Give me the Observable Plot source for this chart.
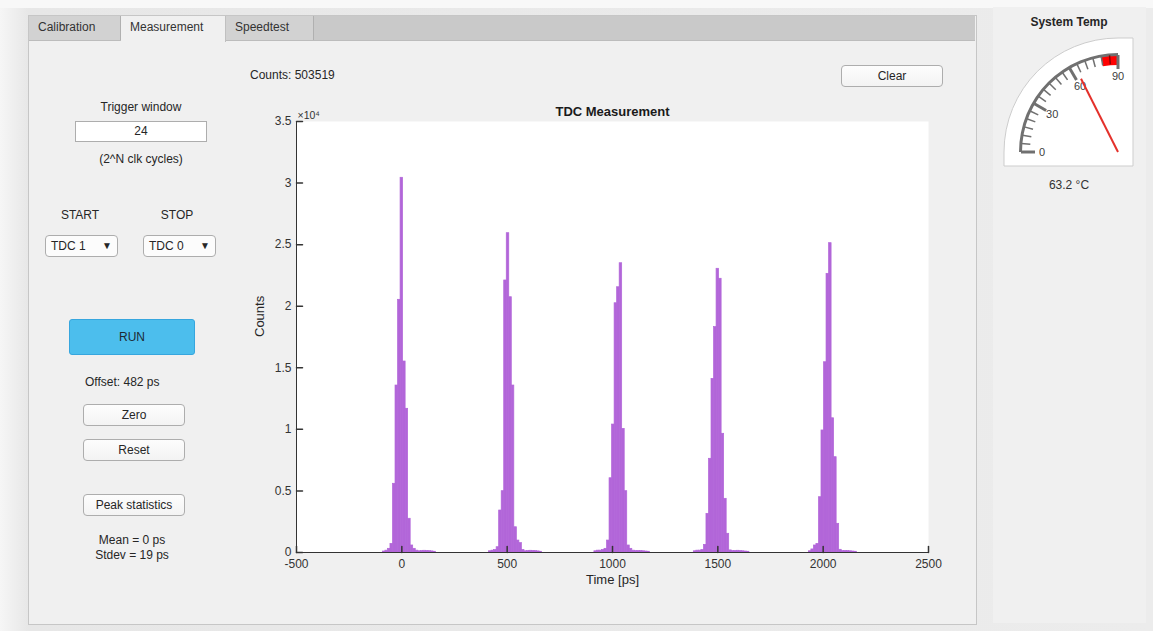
<!DOCTYPE html>
<html>
<head>
<meta charset="utf-8">
<script src="https://cdn.jsdelivr.net/npm/d3@7"></script>
<script src="https://cdn.jsdelivr.net/npm/@observablehq/plot@0.6"></script>
<style>
  html, body { margin: 0; padding: 0; }
  body { width: 1153px; height: 631px; overflow: hidden; position: relative;
         font-family: "Liberation Sans", Arial, sans-serif; color: #262626;
         background: linear-gradient(90deg, #f6f6f6 0px, #e7e7e7 28px, #ececec 100%); }
  .abs { position: absolute; }
  .panel { left: 28px; top: 15px; width: 947px; height: 608px; background: #f0f0f0; border: 1px solid #c6c6c6; }
  .tabbar { left: 29px; top: 16px; width: 946px; height: 24px; background: #c9c9c9; border-bottom: 1px solid #bcbcbc; }
  .tab { top: 16px; height: 24px; font-size: 12px; line-height: 22px; color: #333; box-sizing: border-box; padding-left: 9px; border-right: 1px solid #b0b0b0; background: #d2d2d2; }
  .tab.sel { background: #f0f0f0; height: 26px; border-right: 1px solid #c0c0c0; }
  .lbl { font-size: 12px; color: #262626; white-space: nowrap; }
  .ctr { transform: translate(-50%, -50%); }
  .btn { box-sizing: border-box; border: 1px solid #adadad; border-radius: 4px; background: linear-gradient(#fdfdfd, #f3f3f3);
         font-size: 12px; text-align: center; color: #262626; }
  .dd { box-sizing: border-box; border: 1px solid #adadad; border-radius: 4px; background: #fcfcfc; font-size: 12px; color: #262626; padding-left: 5px; }
  .dd span { position: absolute; right: 5px; top: 0; font-size: 10px; }
</style>
</head>
<body>
<div class="abs" style="left:0;top:0;width:1153px;height:8px;background:#f8f8f8"></div>
<div class="abs panel"></div>
<div class="abs tabbar"></div>
<div class="abs tab" style="left:29px;width:92px">Calibration</div>
<div class="abs tab sel" style="left:121px;width:105px">Measurement</div>
<div class="abs tab" style="left:226px;width:88px">Speedtest</div>

<div class="abs lbl" style="left:250px;top:68px">Counts: 503519</div>
<div class="abs btn" style="left:841px;top:65px;width:102px;height:22px;line-height:20px">Clear</div>

<div class="abs lbl ctr" style="left:141px;top:107px">Trigger window</div>
<div class="abs" style="left:75px;top:121px;width:132px;height:21px;box-sizing:border-box;border:1px solid #adadad;background:#fff;font-size:12px;text-align:center;line-height:19px">24</div>
<div class="abs lbl ctr" style="left:141px;top:159px">(2^N clk cycles)</div>

<div class="abs lbl ctr" style="left:80px;top:215px">START</div>
<div class="abs lbl ctr" style="left:177px;top:215px">STOP</div>
<div class="abs dd" style="left:45px;top:235px;width:73px;height:22px;line-height:20px">TDC 1<span>▼</span></div>
<div class="abs dd" style="left:143px;top:235px;width:73px;height:22px;line-height:20px">TDC 0<span>▼</span></div>

<div class="abs" style="left:69px;top:319px;width:126px;height:36px;box-sizing:border-box;border:1px solid #36a6de;border-radius:3px;background:#4cbeed;font-size:12px;text-align:center;line-height:34px;color:#1e2a33">RUN</div>

<div class="abs lbl" style="left:85px;top:375px">Offset: 482 ps</div>
<div class="abs btn" style="left:83px;top:404px;width:102px;height:22px;line-height:20px">Zero</div>
<div class="abs btn" style="left:83px;top:439px;width:102px;height:22px;line-height:20px">Reset</div>
<div class="abs btn" style="left:83px;top:494px;width:102px;height:22px;line-height:20px">Peak statistics</div>
<div class="abs lbl ctr" style="left:132px;top:540px">Mean = 0 ps</div>
<div class="abs lbl ctr" style="left:132px;top:555px">Stdev = 19 ps</div>

<div class="abs" style="left:993px;top:7px;width:153px;height:616px;background:#f0f0f0"></div>
<div class="abs lbl ctr" style="left:1069px;top:22px;font-weight:bold;font-size:12px">System Temp</div>
<div class="abs lbl ctr" style="left:1069px;top:185px;color:#333">63.2 °C</div>

<div id="chart" class="abs" style="left:240px;top:95px"></div>
<div id="gauge" class="abs" style="left:990px;top:0px"></div>

<script>
// ---- Histogram data (bin centres in ps, counts), bin width 12 ps ----
const binWidth = 12;
const binTime = [
  -84, -72, -60, -48, -36, -24, -12, 0, 12, 24, 36, 48, 60, 72, 84, 96, 108, 120, 132, 144, 156,
  420, 432, 444, 456, 468, 480, 492, 504, 516, 528, 540, 552, 564, 576, 588, 600, 612, 624, 636, 648, 660,
  920, 932, 944, 956, 968, 980, 992, 1004, 1016, 1028, 1040, 1052, 1064, 1076, 1088, 1100, 1112, 1124, 1136, 1148, 1160, 1172,
  1392, 1404, 1416, 1428, 1440, 1452, 1464, 1476, 1488, 1500, 1512, 1524, 1536, 1548, 1560, 1572, 1584, 1596, 1608, 1620, 1632, 1644,
  1938, 1950, 1962, 1974, 1986, 1998, 2010, 2022, 2034, 2046, 2058, 2070, 2082, 2094, 2106, 2118, 2130, 2142, 2154
];
const binCount = [
  80, 150, 300, 700, 5580, 13560, 20520, 30430, 15510, 11670, 2740, 570, 300, 150, 100, 120, 140, 130, 110, 90, 60,
  100, 150, 200, 430, 3410, 4980, 22090, 25930, 20730, 13560, 2050, 970, 760, 200, 100, 120, 140, 130, 110, 90, 60,
  100, 150, 150, 200, 300, 970, 6030, 10390, 20240, 21540, 23490, 10040, 4980, 570, 300, 150, 120, 130, 120, 100, 80, 60,
  100, 150, 150, 200, 620, 3140, 7610, 14100, 18300, 23040, 22230, 9640, 4360, 1520, 170, 120, 130, 140, 120, 100, 80, 60,
  100, 250, 570, 700, 4490, 9910, 15450, 22630, 25120, 10900, 7740, 2330, 220, 120, 130, 120, 100, 80, 60
];
const xTicks = [-500, 0, 500, 1000, 1500, 2000, 2500];
const yTicks = [0, 5000, 10000, 15000, 20000, 25000, 30000, 35000];
const yTickLabels = ["0", "0.5", "1", "1.5", "2", "2.5", "3", "3.5"];

// ---- Gauge data ----
const gaugeMajor = [0, 30, 60, 90];
const gaugeMinorStep = 5;
const gaugeRed = [80, 90];
const systemTemp = 63.2;

const bins = binTime.map((t, i) => ({t, c: binCount[i]}));
const axisColor = "#333333";
const barColor = "#b266d9";
const tickShape = {draw(ctx, l) { ctx.moveTo(0, 0); ctx.lineTo(0, -l); }};

const chart = Plot.plot({
  width: 710, height: 505,
  marginLeft: 56, marginRight: 22, marginTop: 26, marginBottom: 48,
  style: {background: "transparent", fontFamily: "Liberation Sans, Arial, sans-serif", fontSize: "12px", color: "#262626", overflow: "visible"},
  x: {domain: [-500, 2500], label: null},
  y: {domain: [0, 35000], label: null},
  marks: [
    Plot.frame({fill: "white", stroke: null}),
    Plot.rectY(bins, {x1: d => d.t - binWidth / 2, x2: d => d.t + binWidth / 2, y1: 0, y2: "c", fill: barColor, stroke: barColor, strokeWidth: 0.7, inset: 0}),
    Plot.ruleY([0], {stroke: axisColor, strokeWidth: 1}),
    Plot.ruleX([-500], {stroke: axisColor, strokeWidth: 1}),
    Plot.vector(xTicks, {x: d => d, y: 0, length: 6, anchor: "start", shape: tickShape, stroke: axisColor}),
    Plot.vector(yTicks, {x: -500, y: d => d, length: 6, rotate: 90, anchor: "start", shape: tickShape, stroke: axisColor}),
    Plot.axisX(xTicks, {tickSize: 0, tickPadding: 7, tickFormat: d => String(d), label: null, fill: "#333", fontSize: 12}),
    Plot.axisY(yTicks, {tickSize: 0, tickPadding: 5, tickFormat: d => yTickLabels[yTicks.indexOf(d)], label: null, fill: "#333", fontSize: 12}),
    Plot.text(["TDC Measurement"], {frameAnchor: "top", dy: -15, fontWeight: "bold", fontSize: 13, fill: "#1a1a1a"}),
    Plot.text(["Time [ps]"], {frameAnchor: "bottom", dy: 31, fontSize: 13, fill: "#262626"}),
    Plot.text(["Counts"], {frameAnchor: "left", dx: -37, rotate: -90, fontSize: 13, fill: "#262626"}),
    Plot.text(["×10⁴"], {frameAnchor: "top-left", dx: 1, dy: -10, textAnchor: "start", fontSize: 10.5, fill: "#333"})
  ]
});
document.getElementById("chart").appendChild(chart);

// ---- Gauge ----
(function () {
  const W = 163, H = 200, cx = 128, cy = 152;
  const svg = d3.select("#gauge").append("svg").attr("width", W).attr("height", H)
    .style("font-family", "Liberation Sans, Arial, sans-serif");
  const ang = v => (v / 90) * Math.PI / 2;
  const pt = (v, r) => [cx - r * Math.cos(ang(v)), cy - r * Math.sin(ang(v))];
  svg.append("path")
    .attr("d", `M14,166 L14,${cy} A114,114 0 0 1 ${cx},38 L143,38 L143,166 Z`)
    .attr("fill", "#fff").attr("stroke", "#cdcdcd");
  // red zone
  const arc = d3.arc().innerRadius(87).outerRadius(97)
    .startAngle(-Math.PI / 2 + ang(gaugeRed[0])).endAngle(-Math.PI / 2 + ang(gaugeRed[1]));
  svg.append("path").attr("d", arc()).attr("transform", `translate(${cx},${cy})`).attr("fill", "#ff0000");
  // outer arc
  const oarc = d3.arc().innerRadius(96).outerRadius(99).startAngle(-Math.PI / 2).endAngle(0);
  svg.append("path").attr("d", oarc()).attr("transform", `translate(${cx},${cy})`).attr("fill", "#707070");
  // ticks
  for (let v = 0; v <= 90; v += gaugeMinorStep) {
    const major = gaugeMajor.includes(v);
    const [x1, y1] = pt(v, major ? 83 : 88);
    const [x2, y2] = pt(v, 97);
    svg.append("line").attr("x1", x1).attr("y1", y1).attr("x2", x2).attr("y2", y2)
      .attr("stroke", v > gaugeRed[0] && v < gaugeRed[1] ? "#900000" : "#707070")
      .attr("stroke-width", major ? 3 : 1.5);
  }
  gaugeMajor.forEach(v => {
    const [x, y] = pt(v, 76);
    svg.append("text").attr("x", x).attr("y", y).attr("text-anchor", "middle").attr("dy", "0.35em")
      .attr("font-size", 11).attr("fill", "#404040").text(v);
  });
  // needle
  const [nx, ny] = pt(systemTemp, 82);
  svg.append("line").attr("x1", cx).attr("y1", cy).attr("x2", nx).attr("y2", ny)
    .attr("stroke", "#e4312b").attr("stroke-width", 2);
})();
</script>
</body>
</html>
